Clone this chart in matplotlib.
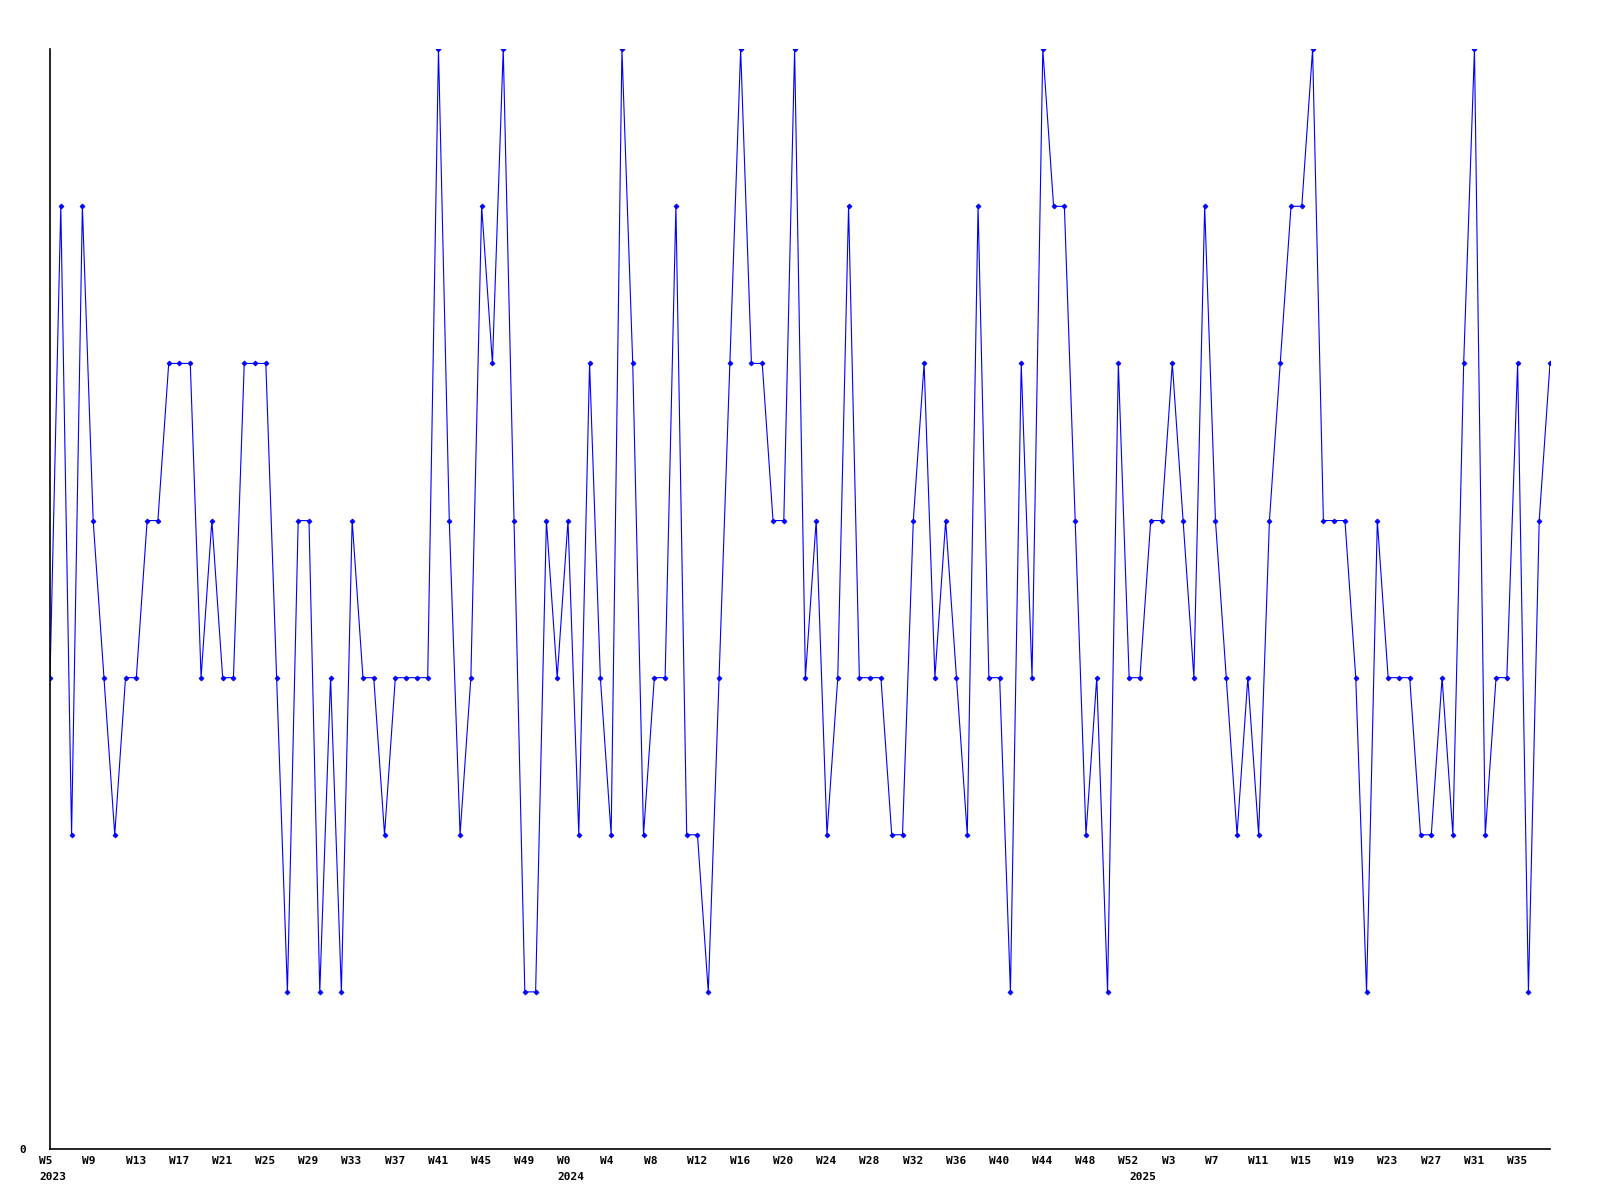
import matplotlib
matplotlib.use("Agg")
import matplotlib.pyplot as plt

# weekly values, 2023 W5 .. 2025 W38
values = [3, 6, 2, 6, 4, 3, 2, 3, 3, 4, 4, 5, 5, 5, 3, 4, 3, 3, 5, 5, 5, 3, 1, 4,
          4, 1, 3, 1, 4, 3, 3, 2, 3, 3, 3, 3, 7, 4, 2, 3, 6, 5, 7, 4, 1, 1, 4, 3,
          4, 2, 5, 3, 2, 7, 5, 2, 3, 3, 6, 2, 2, 1, 3, 5, 7, 5, 5, 4, 4, 7, 3, 4,
          2, 3, 6, 3, 3, 3, 2, 2, 4, 5, 3, 4, 3, 2, 6, 3, 3, 1, 5, 3, 7, 6, 6, 4,
          2, 3, 1, 5, 3, 3, 4, 4, 5, 4, 3, 6, 4, 3, 2, 3, 2, 4, 5, 6, 6, 7, 4, 4,
          4, 3, 1, 4, 3, 3, 3, 2, 2, 3, 2, 5, 7, 2, 3, 3, 5, 1, 4, 5]

week_labels = ["W5", "W9", "W13", "W17", "W21", "W25", "W29", "W33", "W37", "W41",
               "W45", "W49", "W0", "W4", "W8", "W12", "W16", "W20", "W24", "W28",
               "W32", "W36", "W40", "W44", "W48", "W52", "W3", "W7", "W11", "W15",
               "W19", "W23", "W27", "W31", "W35"]
week_pos = [0, 4, 8, 12, 16, 20, 24, 28, 32, 36, 40, 44, 48, 52, 56, 60, 64, 68,
            72, 76, 80, 84, 88, 92, 96, 100, 104, 108, 112, 116, 120, 124, 128,
            132, 136]
year_labels = ["2023", "2024", "2025"]
year_pos = [0, 48, 101]

fig = plt.figure(figsize=(16, 12), dpi=100)
ax = fig.add_axes([0.03125, 0.0425, 0.9375, 0.9165])

xs = list(range(len(values)))
ax.plot(xs, values, color="#0000ff", linewidth=0.8, marker="D",
        markersize=2.5, markeredgewidth=0.6)

ax.set_xlim(0, len(values) - 1)
ax.set_ylim(0, 7)
ax.spines["top"].set_visible(False)
ax.spines["right"].set_visible(False)
ax.spines["left"].set_linewidth(1.2)
ax.spines["bottom"].set_linewidth(1.2)

ax.set_xticks([])
ax.set_yticks([0])
ax.set_yticklabels(["0"], fontfamily="DejaVu Sans Mono", fontweight="bold",
                   fontsize=8)
ax.tick_params(axis="y", length=0, pad=17)

font = dict(fontfamily="DejaVu Sans Mono", fontweight="bold", fontsize=8)
for p, lab in zip(week_pos, week_labels):
    ax.annotate(lab, xy=(p - 1, 0), xycoords=("data", "axes fraction"),
                xytext=(0, -12), textcoords="offset pixels",
                ha="left", va="center", **font)
for p, lab in zip(year_pos, year_labels):
    ax.annotate(lab, xy=(p - 1, 0), xycoords=("data", "axes fraction"),
                xytext=(0, -28), textcoords="offset pixels",
                ha="left", va="center", annotation_clip=False, **font)

fig.savefig("out.png", dpi=100)
